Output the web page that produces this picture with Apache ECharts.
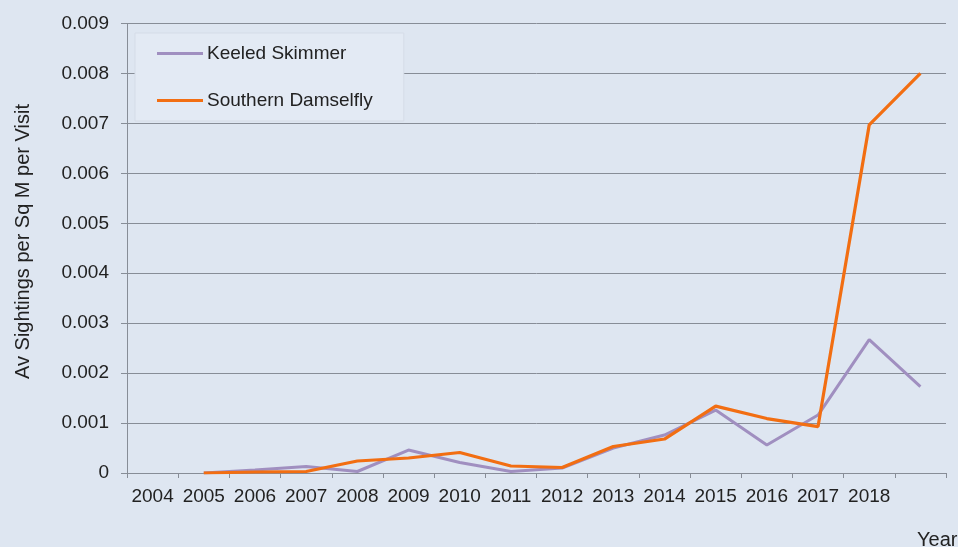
<!DOCTYPE html>
<html>
<head>
<meta charset="utf-8">
<script src="https://cdn.jsdelivr.net/npm/echarts@6/dist/echarts.min.js"></script>
<style>
  html, body { margin: 0; padding: 0; background: #dee6f1; }
  #chart { width: 958px; height: 547px; }
</style>
</head>
<body>
<div id="chart"></div>
<script>
// Survey years (the last slot carries data but no label)
const years = ['2004', '2005', '2006', '2007', '2008', '2009', '2010', '2011',
  '2012', '2013', '2014', '2015', '2016', '2017', '2018', ''];

// Average sightings per square metre per visit
const keeledSkimmer = [null, 0, 0.00006, 0.00013, 0.00003, 0.00046, 0.00021, 0.00003,
  0.0001, 0.0005, 0.00076, 0.00126, 0.00056, 0.00116, 0.00267, 0.00173];
const southernDamselfly = [null, 0, 0.00002, 0.00003, 0.00024, 0.0003, 0.00041, 0.00014,
  0.00011, 0.00053, 0.00068, 0.00134, 0.00109, 0.00093, 0.00697, 0.0080];

const seriesNames = ['Keeled Skimmer', 'Southern Damselfly'];
const seriesColors = ['#a08fc0', '#f26e12'];
const yAxisTitle = 'Av Sightings per Sq M per Visit';
const xAxisTitle = 'Year';

const font = 'Arial, "Liberation Sans", sans-serif';
const textColor = '#222222';
const axisColor = '#878d97';
const chart = echarts.init(document.getElementById('chart'));

chart.setOption({
  backgroundColor: '#dee6f1',
  animation: false,
  grid: { left: 127, right: 12, top: 23.5, bottom: 74, containLabel: false },
  legend: {
    orient: 'vertical',
    left: 135,
    top: 33,
    padding: [11, 31, 11, 22],
    itemGap: 28,
    itemWidth: 46,
    itemHeight: 3,
    backgroundColor: '#e3eaf4',
    borderColor: '#d5dce7',
    borderWidth: 1,
    textStyle: { fontFamily: font, fontSize: 19, color: textColor, padding: [0, 0, 0, -1] },
    data: [
      { name: seriesNames[0], icon: 'rect', itemStyle: { color: seriesColors[0] } },
      { name: seriesNames[1], icon: 'rect', itemStyle: { color: seriesColors[1] } }
    ]
  },
  xAxis: {
    type: 'category',
    data: years,
    boundaryGap: true,
    axisLine: { show: true, lineStyle: { color: axisColor, width: 1 } },
    axisTick: { show: true, length: 5, lineStyle: { color: axisColor } },
    axisLabel: { fontFamily: font, fontSize: 19, color: textColor, margin: 14, interval: 0 },
    splitLine: { show: false }
  },
  yAxis: {
    type: 'value',
    min: 0,
    max: 0.009,
    interval: 0.001,
    axisLine: { show: true, lineStyle: { color: axisColor, width: 1 } },
    axisTick: { show: true, length: 6, lineStyle: { color: axisColor } },
    axisLabel: {
      fontFamily: font, fontSize: 19, color: textColor, margin: 18,
      formatter: v => (v === 0 ? '0' : v.toFixed(3))
    },
    splitLine: { show: true, lineStyle: { color: axisColor, width: 1 } }
  },
  graphic: [
    {
      type: 'text',
      x: 23,
      y: 241.5,
      rotation: Math.PI / 2,
      style: {
        text: yAxisTitle, fontFamily: font, fontSize: 20, fill: textColor,
        align: 'center', verticalAlign: 'middle'
      }
    },
    {
      type: 'text',
      left: 917,
      top: 530,
      style: { text: xAxisTitle, fontFamily: font, fontSize: 20, fill: textColor }
    }
  ],
  series: [
    {
      name: seriesNames[0],
      type: 'line',
      data: keeledSkimmer,
      color: seriesColors[0],
      showSymbol: false,
      symbol: 'none',
      lineStyle: { width: 3, color: seriesColors[0] },
      z: 2
    },
    {
      name: seriesNames[1],
      type: 'line',
      data: southernDamselfly,
      color: seriesColors[1],
      showSymbol: false,
      symbol: 'none',
      lineStyle: { width: 3.2, color: seriesColors[1] },
      z: 3
    }
  ]
});
</script>
</body>
</html>
